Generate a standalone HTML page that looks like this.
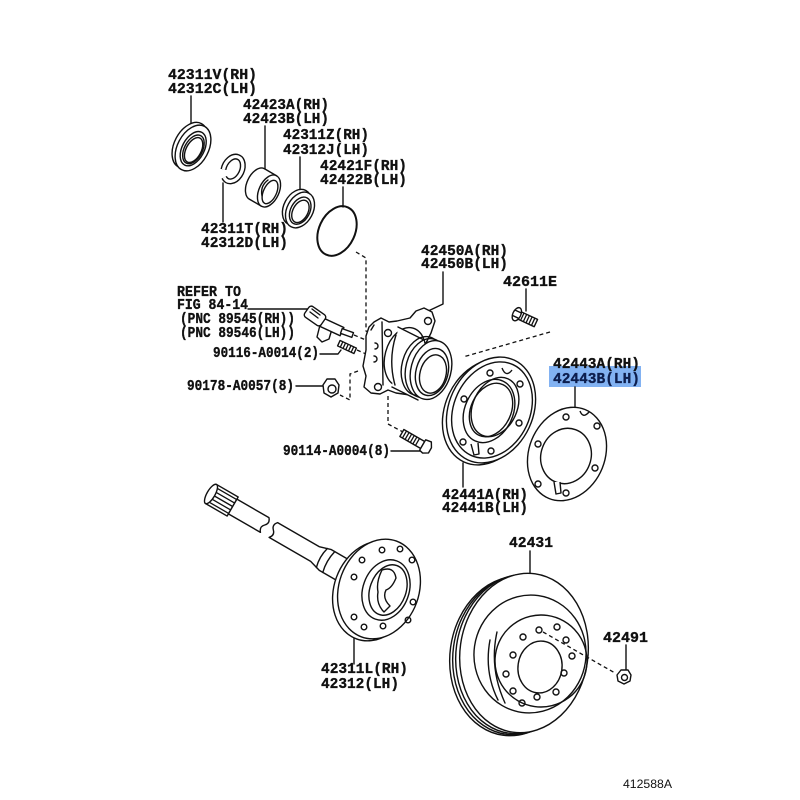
<!DOCTYPE html>
<html><head><meta charset="utf-8"><style>
html,body{margin:0;padding:0;background:#fff;}
svg{display:block;}
.l{font-family:"Liberation Mono","DejaVu Sans Mono",monospace;font-weight:bold;font-size:15px;fill:#111;stroke:#111;stroke-width:0.35;}
.s{fill:none;stroke:#111;stroke-width:1.4;stroke-linejoin:round;stroke-linecap:round;}
.w{fill:#fff;stroke:#111;stroke-width:1.4;stroke-linejoin:round;}
.d{fill:none;stroke:#111;stroke-width:1.3;stroke-dasharray:4 3;}
.h{fill:none;stroke:#111;stroke-width:1.3;}
</style></head><body>
<svg width="800" height="800" viewBox="0 0 800 800" xmlns="http://www.w3.org/2000/svg">
<rect width="800" height="800" fill="#fff"/>

<!-- highlight -->
<rect x="549" y="366" width="92" height="21" fill="#82b2f2"/>

<!-- labels -->
<text class="l" x="168" y="79" textLength="89" lengthAdjust="spacingAndGlyphs">42311V(RH)</text>
<text class="l" x="168" y="93" textLength="89" lengthAdjust="spacingAndGlyphs">42312C(LH)</text>
<text class="l" x="243" y="109" textLength="86" lengthAdjust="spacingAndGlyphs">42423A(RH)</text>
<text class="l" x="243" y="123" textLength="86" lengthAdjust="spacingAndGlyphs">42423B(LH)</text>
<text class="l" x="283" y="139" textLength="86" lengthAdjust="spacingAndGlyphs">42311Z(RH)</text>
<text class="l" x="283" y="154" textLength="86" lengthAdjust="spacingAndGlyphs">42312J(LH)</text>
<text class="l" x="320" y="170" textLength="87" lengthAdjust="spacingAndGlyphs">42421F(RH)</text>
<text class="l" x="320" y="184" textLength="87" lengthAdjust="spacingAndGlyphs">42422B(LH)</text>
<text class="l" x="201" y="233" textLength="87" lengthAdjust="spacingAndGlyphs">42311T(RH)</text>
<text class="l" x="201" y="247" textLength="87" lengthAdjust="spacingAndGlyphs">42312D(LH)</text>
<text class="l" x="421" y="255" textLength="87" lengthAdjust="spacingAndGlyphs">42450A(RH)</text>
<text class="l" x="421" y="268" textLength="87" lengthAdjust="spacingAndGlyphs">42450B(LH)</text>
<text class="l" x="503" y="286" textLength="54" lengthAdjust="spacingAndGlyphs">42611E</text>
<text class="l" x="177" y="296" textLength="64" lengthAdjust="spacingAndGlyphs">REFER TO</text>
<text class="l" x="177" y="309" textLength="71" lengthAdjust="spacingAndGlyphs">FIG 84-14</text>
<text class="l" x="180" y="323" textLength="115" lengthAdjust="spacingAndGlyphs">(PNC 89545(RH))</text>
<text class="l" x="180" y="337" textLength="115" lengthAdjust="spacingAndGlyphs">(PNC 89546(LH))</text>
<text class="l" x="213" y="357" textLength="106" lengthAdjust="spacingAndGlyphs">90116-A0014(2)</text>
<text class="l" x="187" y="390" textLength="107" lengthAdjust="spacingAndGlyphs">90178-A0057(8)</text>
<text class="l" x="283" y="455" textLength="107" lengthAdjust="spacingAndGlyphs">90114-A0004(8)</text>
<text class="l" x="553" y="368" textLength="87" lengthAdjust="spacingAndGlyphs">42443A(RH)</text>
<text class="l" x="553" y="383" textLength="87" lengthAdjust="spacingAndGlyphs" style="fill:#0d1e4e;stroke:#0d1e4e">42443B(LH)</text>
<text class="l" x="442" y="499" textLength="86" lengthAdjust="spacingAndGlyphs">42441A(RH)</text>
<text class="l" x="442" y="512" textLength="86" lengthAdjust="spacingAndGlyphs">42441B(LH)</text>
<text class="l" x="509" y="547" textLength="44" lengthAdjust="spacingAndGlyphs">42431</text>
<text class="l" x="603" y="642" textLength="45" lengthAdjust="spacingAndGlyphs">42491</text>
<text class="l" x="321" y="673" textLength="87" lengthAdjust="spacingAndGlyphs">42311L(RH)</text>
<text class="l" x="321" y="688" textLength="78" lengthAdjust="spacingAndGlyphs">42312(LH)</text>
<text x="623" y="788" textLength="49" lengthAdjust="spacingAndGlyphs" style="font-family:'Liberation Sans',sans-serif;font-size:12px;fill:#111">412588A</text>

<!-- leader lines -->
<g class="s">
<path d="M191,96 V127"/>
<path d="M265,126 V171"/>
<path d="M300,157 V194"/>
<path d="M343,187 V207"/>
<path d="M223,183 V222"/>
<path d="M443,272 V304 L424,313"/>
<path d="M526,289 V311"/>
<path d="M248,309 H308"/>
<path d="M320,354 H338 L341,350"/>
<path d="M296,386 H323"/>
<path d="M391,451 H424"/>
<path d="M575,387 V409"/>
<path d="M463,463 V487"/>
<path d="M354,638 V664"/>
<path d="M530,551 V573"/>
<path d="M626,645 V670"/>
</g>

<!-- dashed lines -->
<g class="d">
<path d="M356,252 L366,258 V331 L372,334"/>
<path d="M354,335 L373,343"/>
<path d="M357,350 L373,357"/>
<path d="M358,371 L350,374 V400 L340,395"/>
<path d="M388,396 V424 L403,432"/>
<path d="M550,332 L463,357"/>
</g>

<!-- Seal 42311V -->
<g transform="translate(193,148) rotate(28)">
<ellipse class="w" cx="-4" cy="-1" rx="15.5" ry="24.5"/>
<ellipse class="w" cx="0" cy="0" rx="15.5" ry="24.5"/>
<ellipse class="s" cx="0.5" cy="0.5" rx="11" ry="18.5"/>
<ellipse class="s" cx="1" cy="1" rx="9" ry="15.5"/>
<ellipse class="s" cx="1.5" cy="1.5" rx="7.5" ry="13.5"/>
</g>

<!-- Snap ring 42311T -->
<g transform="translate(233,169) rotate(25)">
<path d="M -8.46 4.45 A 9 13 0 1 1 -4.5 11.26" fill="none" stroke="#111" stroke-width="6"/>
<path d="M -8.46 4.45 A 9 13 0 1 1 -4.5 11.26" fill="none" stroke="#fff" stroke-width="3.2"/>
</g>

<!-- Bearing 42423A -->
<g>
<ellipse class="w" cx="257" cy="184" rx="10" ry="17" transform="rotate(25 257 184)"/>
<polygon points="264.7,168.9 276.7,175.9 261.3,206.1 249.3,199.1" fill="#fff"/>
<path class="s" d="M264.7,168.9 L276.7,175.9 M249.3,199.1 L261.3,206.1"/>
<ellipse class="w" cx="269" cy="191" rx="10" ry="17" transform="rotate(25 269 191)"/>
<ellipse class="s" cx="270" cy="192" rx="6.5" ry="12.5" transform="rotate(25 270 192)"/>
<path class="s" d="M262,196 Q260,186 268,180"/>
</g>

<!-- Seal 42311Z -->
<g transform="translate(300,210) rotate(28)">
<ellipse class="w" cx="-4" cy="-1" rx="13" ry="19"/>
<ellipse class="w" cx="0" cy="0" rx="13" ry="19"/>
<ellipse class="s" cx="0.5" cy="0.5" rx="9.5" ry="14.5"/>
<ellipse class="s" cx="1" cy="1" rx="7.5" ry="12"/>
</g>

<!-- O-ring 42421F -->
<ellipse cx="337" cy="231" rx="18" ry="26" transform="rotate(25 337 231)" fill="none" stroke="#111" stroke-width="2"/>

<!-- Sensor -->
<g>
<path class="w" d="M320,325 L317,337 L322,342 L329,339 L332,329 Z"/>
<rect class="w" x="-11" y="-4.5" width="22" height="9" transform="translate(332,327) rotate(25)"/>
<rect class="w" x="-10" y="-6.5" width="20" height="13" rx="3" transform="translate(315,316) rotate(35)"/>
<path class="s" d="M310,312 L318,318 M312,309 L320,315"/>
<rect class="w" x="-6" y="-2.5" width="12" height="5" transform="translate(347,333) rotate(20)"/>
</g>

<!-- Stud 90116 -->
<g transform="translate(347,347) rotate(25)">
<rect class="w" x="-9" y="-3" width="18" height="6"/>
<path class="h" d="M-6,-3 V3 M-3,-3 V3 M0,-3 V3 M3,-3 V3 M6,-3 V3"/>
</g>

<!-- Nut 90178 -->
<g transform="translate(331,388)">
<polygon class="w" points="-8,-3 -4,-9 4,-9 8,-3 7,5 0,9 -7,5"/>
<circle class="s" cx="1" cy="1" r="4"/>
</g>

<!-- Hub 42450A -->
<g>
<path class="w" d="M374,322 L381,318 L389,322 L397,321 L410,318 L416,311 L424,308 L432,312 L435,321 L431,333 L425,345 L410,395 L396,393 L388,390 L380,394 L371,393 L364,387 L366,376 L363,366 L366,350 L366,336 L369,327 Z"/>
<path class="s" d="M382,322 L383,385 M371,330 L374,325"/>
<circle class="s" cx="388" cy="333" r="3.5"/>
<circle class="s" cx="428" cy="321" r="3.5"/>
<circle class="s" cx="378" cy="387" r="3.5"/>
<path class="s" d="M375,343 a3,3 0 1 1 0,6 M374,356 a3,3 0 1 1 0,6"/>
<ellipse class="w" cx="405" cy="357" rx="20" ry="30" transform="rotate(15 405 357)"/>
<polygon points="398,327 424,340 418,400 392,387" fill="#fff"/>
<path class="s" d="M398,327 L424,340 M392,387 L418,400"/>
<ellipse class="s" cx="422" cy="366" rx="20" ry="30" transform="rotate(15 422 366)"/>
<ellipse class="s" cx="426" cy="368" rx="20" ry="30" transform="rotate(15 426 368)"/>
<ellipse class="w" cx="431" cy="370" rx="20" ry="30" transform="rotate(15 431 370)"/>
<ellipse class="s" cx="432" cy="372" rx="16" ry="24" transform="rotate(15 432 372)"/>
<ellipse class="s" cx="433" cy="374" rx="13" ry="19.5" transform="rotate(15 433 374)"/>
<path class="s" d="M396,335 Q388,360 395,385"/>
</g>

<!-- Bolt 90114 -->
<g transform="translate(414,440) rotate(30)">
<rect class="w" x="-14" y="-4" width="24" height="8"/>
<path class="h" d="M-11,-4 V4 M-8,-4 V4 M-5,-4 V4 M-2,-4 V4 M1,-4 V4 M4,-4 V4"/>
<polygon class="w" points="10,-6 16,-7 19,-2 19,4 14,7 10,6"/>
</g>

<!-- Bolt 42611E -->
<g transform="translate(525,318) rotate(25)">
<rect class="w" x="-6" y="-4" width="18" height="8"/>
<path class="h" d="M-3,-4 V4 M0,-4 V4 M3,-4 V4 M6,-4 V4 M9,-4 V4"/>
<ellipse class="w" cx="-9" cy="0" rx="4" ry="7"/>
<path class="s" d="M-12,-3 H-6 M-12,3 H-6"/>
</g>

<!-- Backing plate 42441A -->
<g>
<ellipse class="w" cx="487" cy="412" rx="42" ry="55" transform="rotate(25 487 412)"/>
<ellipse class="w" cx="491" cy="410" rx="42" ry="55" transform="rotate(25 491 410)"/>
<ellipse class="s" cx="492" cy="410" rx="38" ry="50" transform="rotate(25 492 410)"/>
<ellipse class="w" cx="489" cy="411" rx="24" ry="33" transform="rotate(25 489 411)"/>
<ellipse class="s" cx="495" cy="407" rx="22" ry="31" transform="rotate(25 495 407)"/>
<ellipse class="s" cx="491" cy="410" rx="20" ry="28" transform="rotate(25 491 410)"/>
<path class="w" d="M502,368 Q506,378 512,370"/>
<path class="w" d="M471,444 L474,455 L479,454 L478,443"/>
<g class="s">
<circle cx="490" cy="373" r="3"/><circle cx="520" cy="384" r="3"/><circle cx="519" cy="423" r="3"/>
<circle cx="491" cy="451" r="3"/><circle cx="463" cy="442" r="3"/><circle cx="464" cy="399" r="3"/>
</g>
</g>

<!-- Gasket 42443A -->
<g>
<ellipse class="w" cx="567" cy="454" rx="38" ry="48" transform="rotate(22 567 454)"/>
<ellipse class="s" cx="566" cy="456" rx="25" ry="28" transform="rotate(20 566 456)"/>
<path class="w" d="M580,411 Q583,419 589,412"/>
<path class="w" d="M554,482 L556,494 L561,493 L560,482"/>
<g class="s">
<circle cx="566" cy="417" r="3"/><circle cx="597" cy="426" r="3"/><circle cx="595" cy="468" r="3"/>
<circle cx="566" cy="493" r="3"/><circle cx="538" cy="444" r="3"/><circle cx="538" cy="484" r="3"/>
</g>
</g>

<!-- Axle shaft 42311L -->
<g transform="translate(211,494) rotate(30)">
<rect class="w" x="0" y="-11" width="25" height="22"/>
<path class="h" d="M2,-8 H25 M2,-4 H25 M2,0 H25 M2,4 H25 M2,8 H25"/>
<ellipse class="w" cx="0" cy="0" rx="4" ry="11"/>
<path class="w" d="M25,-8.5 L62,-8.5 Q66,-4 62,0 Q58,4 62,8.5 L25,8.5 Z"/>
<path class="w" d="M72,-8.5 Q68,-4 72,0 Q76,4 72,8.5 L120,8.5 L132,12 L160,12 L160,-12 L132,-12 L120,-8.5 Z"/>
<path class="s" d="M128,-11 Q125,0 128,11 M136,-12 Q133,0 136,12"/>
</g>
<g>
<ellipse class="w" cx="374" cy="591" rx="40" ry="51" transform="rotate(20 374 591)"/>
<ellipse class="w" cx="379" cy="589" rx="40" ry="51" transform="rotate(20 379 589)"/>
<ellipse class="s" cx="386" cy="590" rx="23" ry="31" transform="rotate(20 386 590)"/>
<ellipse class="s" cx="388" cy="590" rx="18" ry="26" transform="rotate(20 388 590)"/>
<path class="s" d="M382,570 Q394,566 396,578 Q392,588 386,590 Q382,598 390,606 L384,612 Q376,604 378,592 Q376,582 382,570 Z"/>
<g class="s">
<circle cx="382" cy="550" r="2.8"/><circle cx="400" cy="549" r="2.8"/><circle cx="412" cy="560" r="2.8"/>
<circle cx="354" cy="577" r="2.8"/><circle cx="413" cy="602" r="2.8"/><circle cx="354" cy="617" r="2.8"/>
<circle cx="364" cy="627" r="2.8"/><circle cx="383" cy="626" r="2.8"/><circle cx="408" cy="620" r="2.8"/>
<circle cx="362" cy="560" r="2.8"/>
</g>
</g>

<!-- Rotor 42431 -->
<g>
<ellipse class="w" cx="514" cy="656" rx="64" ry="80" transform="rotate(8 514 656)"/>
<ellipse class="s" cx="517" cy="655" rx="64" ry="80" transform="rotate(8 517 655)"/>
<ellipse class="s" cx="520" cy="654" rx="64" ry="80" transform="rotate(8 520 654)"/>
<ellipse class="w" cx="524" cy="653" rx="64" ry="80" transform="rotate(8 524 653)"/>
<ellipse class="s" cx="530" cy="654" rx="56" ry="59" transform="rotate(8 530 654)"/>
<ellipse class="s" cx="541" cy="661" rx="46" ry="46" transform="rotate(8 541 661)"/>
<path class="s" d="M490,640 Q484,672 498,700 M497,632 Q489,668 505,703"/>
<ellipse class="w" cx="540" cy="667" rx="22" ry="26" transform="rotate(8 540 667)"/>
<g class="s">
<circle cx="539" cy="630" r="3"/><circle cx="557" cy="627" r="3"/><circle cx="566" cy="640" r="3"/>
<circle cx="572" cy="656" r="3"/><circle cx="564" cy="673" r="3"/><circle cx="556" cy="692" r="3"/>
<circle cx="537" cy="697" r="3"/><circle cx="522" cy="703" r="3"/><circle cx="513" cy="691" r="3"/>
<circle cx="506" cy="674" r="3"/><circle cx="513" cy="655" r="3"/><circle cx="523" cy="637" r="3"/>
</g>
</g>
<path class="d" d="M543,632 L615,673"/>

<!-- Nut 42491 -->
<g transform="translate(624,677)">
<polygon class="w" points="-7,-2 -3,-7 4,-7 7,-2 6,4 0,7 -6,4"/>
<circle class="s" cx="0.5" cy="0.5" r="3"/>
</g>
</svg>
</body></html>
